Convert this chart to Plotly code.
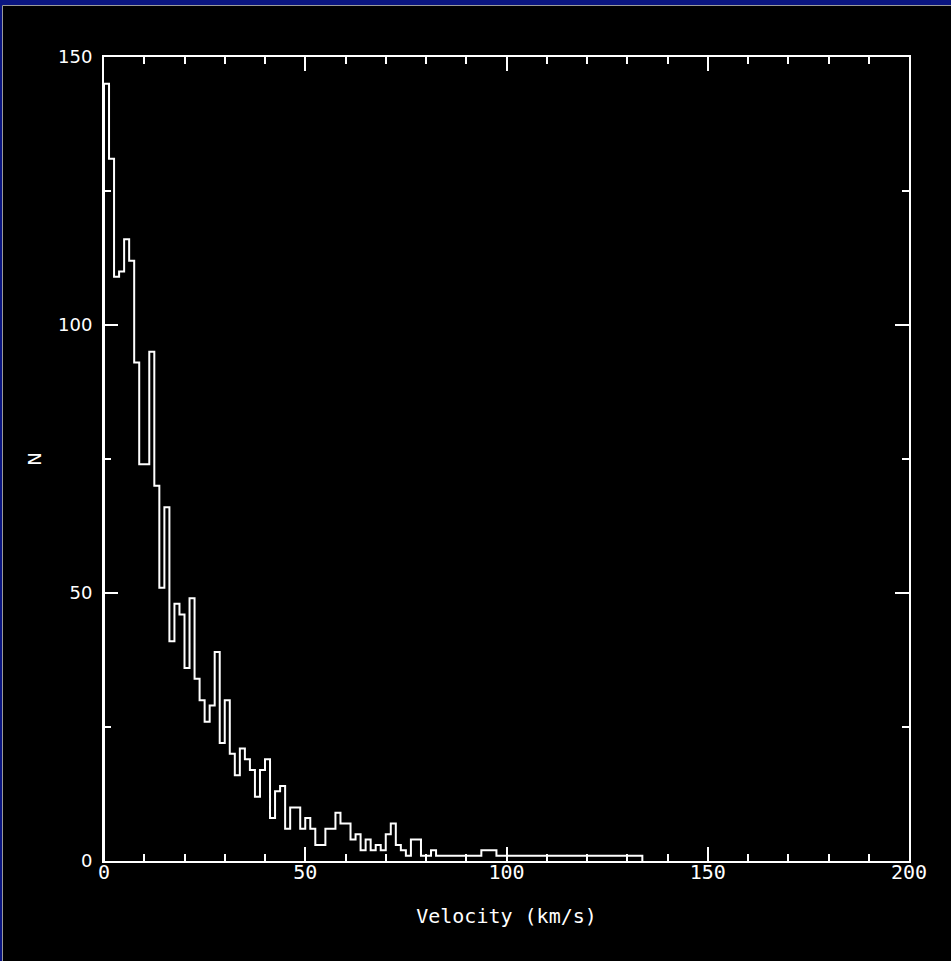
import plotly.graph_objects as go

# Histogram of velocities, bin width 1.25 km/s
bin_width = 1.25
counts = [145, 131, 109, 110, 116, 112, 93, 74, 74, 95,
          70, 51, 66, 41, 48, 46, 36, 49, 34, 30,
          26, 29, 39, 22, 30, 20, 16, 21, 19, 17,
          12, 17, 19, 8, 13, 14, 6, 10, 10, 6,
          8, 6, 3, 3, 6, 6, 9, 7, 7, 4,
          5, 2, 4, 2, 3, 2, 5, 7, 3, 2,
          1, 4, 4, 1, 1, 2, 1, 1, 1, 1,
          1, 1, 1, 1, 1, 2, 2, 2, 1, 1,
          1, 1, 1, 1, 1, 1, 1, 1, 1, 1,
          1, 1, 1, 1, 1, 1, 1, 1, 1, 1,
          1, 1, 1, 1, 1, 1, 1]
x_ticks = [0, 50, 100, 150, 200]
y_ticks = [0, 50, 100, 150]

edges = [i * bin_width for i in range(len(counts) + 1)]
xs = [edges[0]] + edges + [edges[-1]]
ys = [0] + counts + [counts[-1], 0]

W, H = 951, 961
L, R, T, B = 104, 42, 57, 100
pw, ph = W - L - R, H - T - B

def px(xp):
    return (xp - L) / pw

def py(yp):
    return (H - B - yp) / ph

fig = go.Figure()
fig.add_trace(go.Scatter(x=xs, y=ys, mode="lines", line=dict(color="white", width=2, shape="hv"),
                         hoverinfo="skip", showlegend=False))

axis_common = dict(showgrid=False, zeroline=False, showline=True, linecolor="white", linewidth=2,
                   mirror="allticks", ticks="inside", tickcolor="white", tickwidth=2, ticklen=14)

fig.update_xaxes(range=[0, 200], tickvals=x_ticks, ticktext=[str(v) for v in x_ticks],
                 minor=dict(dtick=10, ticklen=7, tickcolor="white", tickwidth=2, ticks="inside"),
                 tickfont=dict(family="DejaVu Sans Mono", size=20, color="white"),
                 ticklabelstandoff=-8,
                 title=dict(text="Velocity (km/s)", font=dict(family="DejaVu Sans Mono", size=20, color="white"),
                            standoff=26),
                 **axis_common)
fig.update_yaxes(range=[0, 150], tickvals=y_ticks, ticktext=[str(v) for v in y_ticks],
                 minor=dict(dtick=25, ticklen=7, tickcolor="white", tickwidth=2, ticks="inside"),
                 tickfont=dict(family="DejaVu Sans", size=18, color="white"),
                 ticklabelstandoff=6,
                 title=dict(text="N", font=dict(family="DejaVu Sans", size=18, color="white"), standoff=12),
                 **axis_common)

shapes = [
    dict(type="rect", xref="paper", yref="paper", x0=px(0), x1=px(W), y0=py(5), y1=py(0),
         fillcolor="#0a1580", line=dict(width=0), layer="above"),
    dict(type="rect", xref="paper", yref="paper", x0=px(0), x1=px(2), y0=py(H), y1=py(0),
         fillcolor="#0a1580", line=dict(width=0), layer="above"),
    dict(type="line", xref="paper", yref="paper", x0=px(2.5), x1=px(W), y0=py(5.5), y1=py(5.5),
         line=dict(color="#9a9a9a", width=1), layer="above"),
    dict(type="line", xref="paper", yref="paper", x0=px(2.5), x1=px(2.5), y0=py(H), y1=py(5.5),
         line=dict(color="#9a9a9a", width=1), layer="above"),
]

fig.update_layout(width=W, height=H, margin=dict(l=L, r=R, t=T, b=B, pad=0),
                  paper_bgcolor="black", plot_bgcolor="black", shapes=shapes)

fig.write_html("out.html", config={"displayModeBar": False},
               post_script="document.body.style.margin='0';document.body.style.background='black';document.body.style.overflow='hidden';")
